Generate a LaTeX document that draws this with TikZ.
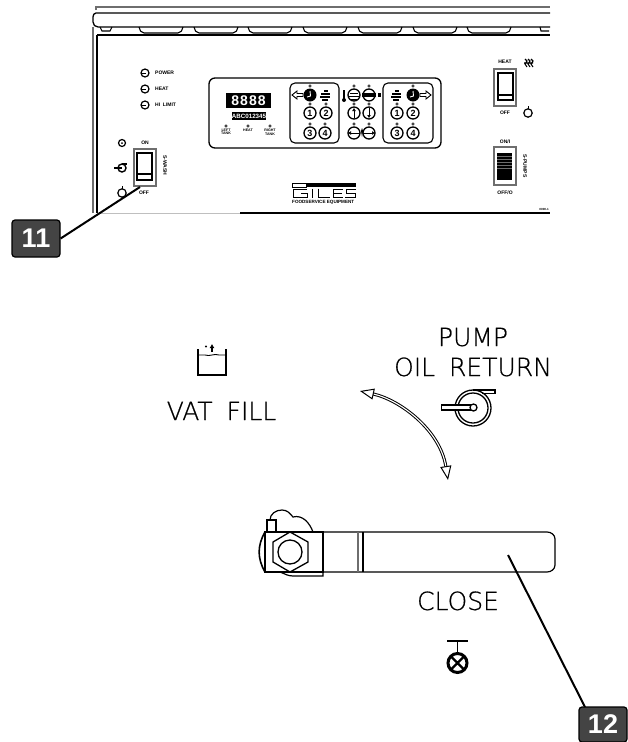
\documentclass[tikz,border=0pt]{standalone}
\usepackage{fontspec}
\setmainfont{Liberation Sans}
\newfontfamily\isofont[RawFeature={embolden=0.6}]{DejaVu Sans ExtraLight}
\usepackage{tikz}
\usetikzlibrary{arrows.meta,positioning,calc}
\definecolor{numbox}{RGB}{68,68,68}
\definecolor{rimgrey}{RGB}{110,110,110}
\tikzset{
  tinytxt/.style={font=\bfseries\fontsize{5}{5.2}\selectfont,inner sep=0pt,align=center},
  isotxt/.style={font=\isofont\fontsize{25}{25}\selectfont,inner sep=0pt,anchor=base},
  numbtn/.style={circle,draw,line width=1.3pt,minimum size=12pt,inner sep=0pt,font=\bfseries\fontsize{9}{9}\selectfont},
  numtag/.style={draw=black,fill=numbox,rounded corners=3pt,line width=1.2pt,text=white,inner sep=0pt,font=\bfseries\fontsize{27}{27}\selectfont},
  leader/.style={line width=2pt,color=black},
  clean/.style={line width=1.2pt}
}
\begin{document}
\begin{tikzpicture}[x=1pt,y=-1pt]
    \useasboundingbox (0,0) rectangle (628,742);
    % Cabinet outline
    \draw[line width=1.4pt,color=rimgrey] (96,10) -- (96,7) -- (550,7);
    \draw[line width=1.3pt] (550,13) -- (96,13) to[out=180,in=90] (93,17) -- (93,22) to[out=-90,in=180] (98,27) -- (550,27);
    \draw[line width=1.2pt,color=rimgrey] (93,27) -- (93,213);
    \draw[line width=1.2pt] (97,35) -- (97,213);
    \draw[line width=1.2pt] (97,35) -- (550,35);
    \draw[line width=0.6pt,color=lightgray] (97,213) -- (240,213);
    \draw[line width=1.2pt] (240,213) -- (550,213);
    \foreach \tabx in {139,194,248,303,358,413,467}
      \draw[line width=1.1pt] (\tabx,27) to[out=-80,in=180] (\tabx+5,33) -- (\tabx+39,33) to[out=0,in=-100] (\tabx+44,27);
    \draw[line width=1.1pt] (100,27) -- (102,31) -- (110,31) -- (112,27);
    \draw[line width=1.1pt] (540,27) -- (541,31) -- (549,31);

    % Indicator lights
    \foreach \ly/\ltxt in {73/POWER,89/HEAT,105/HI\ \ LIMIT}{
      \draw[line width=1.2pt] (145,\ly) circle (4);
      \draw[line width=1pt] (142,\ly) -- (146,\ly);
      \node[tinytxt,anchor=west] at (155,\ly) {\ltxt};
    }

    % Control panel
    \draw[line width=1.3pt,rounded corners=6pt] (209,78) rectangle (441,148);
    \node[fill=black,text=white,minimum width=45pt,minimum height=15pt,inner sep=0pt,font=\bfseries\fontsize{14}{14}\selectfont] (display) at (248.5,100.5) {\addfontfeature{LetterSpace=8}8888};
    \node[fill=black,text=white,minimum width=34pt,minimum height=8pt,inner sep=0pt,font=\bfseries\fontsize{6.2}{6.2}\selectfont] (readout) at (249,116) {ABC012345};
    \foreach \vx/\vtxt in {226/LEFT\\TANK,248/HEAT,270/RIGHT\\TANK}{
      \draw[line width=0.6pt] (\vx,126) circle (1.2);
      \node[tinytxt,anchor=north,font=\bfseries\fontsize{3.6}{3.8}\selectfont] at (\vx,128.5) {\vtxt};
    }
    \draw[line width=1.1pt,rounded corners=5pt] (290,83) rectangle (339,143);
    \draw[line width=1.1pt,rounded corners=5pt] (383,83) rectangle (433,143);

    % Buttons
    \foreach \bname/\bx/\by/\btxt in {la/310/113/1,lb/326/113/2,lc/310/133/3,ld/325/133/4,
                                      ra/397/113/1,rb/413/113/2,rc/397/133/3,rd/413/133/4}{
      \node[numbtn] (btn\bname) at (\bx,\by) {\btxt};
      \draw[line width=0.6pt] (\bx,\by-9) circle (1.2);
    }
    \foreach \bname/\bx/\by in {ma/354/95,mb/369/95,mc/354/113,md/369/113,me/354/133,mf/369/133}{
      \node[numbtn] (btn\bname) at (\bx,\by) {};
      \draw[line width=0.6pt] (\bx,\by-9) circle (1.2);
    }
    \foreach \clkx in {310,413}{
      \node[circle,fill=black,minimum size=13pt,inner sep=0pt] (clk\clkx) at (\clkx,95) {};
      \draw[white,line width=0.9pt] (\clkx,91) -- (\clkx+0.5,96) -- (\clkx-3,97);
      \draw[line width=0.6pt] (\clkx,86) circle (1.2);
    }
    % Small arrows
    \draw[line width=0.9pt] (292,95) -- (297,91) -- (297,93.5) -- (303,93.5) -- (303,96.5) -- (297,96.5) -- (297,99) -- cycle;
    \draw[line width=0.9pt] (431,95) -- (426,91) -- (426,93.5) -- (420,93.5) -- (420,96.5) -- (426,96.5) -- (426,99) -- cycle;
    % Vat marks
    \foreach \fx in {325,396}{
      \draw[line width=1.2pt] (\fx-1,91) -- (\fx+3,91);
      \draw[line width=1.4pt] (\fx-4,94) -- (\fx+5,94);
      \draw[line width=1.4pt] (\fx-5,97) -- (\fx+5,97);
      \draw[line width=1.2pt] (\fx-3,100) -- (\fx+3,100);
    }
    % Thermometer and inner marks
    \draw[line width=1.5pt] (344,90) -- (344,99);
    \fill (344,100) circle (2);
    \draw[line width=1pt] (350,93) -- (358,93) (349,96) -- (359,96) (351,99) -- (357,99);
    \fill (362,92.5) rectangle (376,97);
    \fill (378,93) rectangle (381,97);
    \draw[line width=0.9pt,-{Latex[length=3pt,width=4pt]}] (354,118) -- (354,108);
    \draw[line width=0.9pt,-{Latex[length=3pt,width=4pt]}] (369,108) -- (369,118);
    \draw[line width=0.9pt,-{Latex[length=3pt,width=4pt]}] (360,133) -- (348,133);
    \draw[line width=0.9pt,-{Latex[length=3pt,width=4pt]}] (363,133) -- (375,133);
    \fill (362,128) -- (363,131) -- (362,137) -- (361,131) -- cycle;

    % Left rocker switch
    \draw[line width=1.2pt,color=rimgrey] (134,149) rectangle (156,186);
    \draw[line width=1.2pt] (137,153) rectangle (152,180);
    \draw[line width=1.5pt] (137,174) -- (152,174);
    \node[tinytxt] (onleft) at (145,143) {ON};
    \node[tinytxt] (offleft) at (144,193) {OFF};
    \node[tinytxt,rotate=-90] (wash) at (165,165) {S-WASH};
    \draw[line width=1.2pt] (122,143) circle (3.5);
    \fill (122,143) circle (1);
    \draw[line width=1.4pt] (122,168) circle (4);
    \draw[line width=1.8pt] (114,168) -- (122,168);
    \draw[line width=1.2pt] (122,164) -- (127,164);
    \draw[line width=1.2pt] (122,193) circle (4.2);
    \draw[line width=0.9pt] (122,186) -- (122,189);

    % Right switches
    \node[tinytxt] (heatright) at (505,62) {HEAT};
    \draw[line width=1.2pt,color=rimgrey] (494,69) rectangle (516,106);
    \draw[line width=1.2pt] (498,73) rectangle (513,100);
    \draw[line width=1.5pt] (498,95) -- (513,95);
    \node[tinytxt] (offright) at (505,113) {OFF};
    \draw[line width=1.1pt] (525,59) -- (527,61) -- (525,64) -- (527,67) (528,59) -- (530,61) -- (528,64) -- (530,67) (531,59) -- (533,61) -- (531,64) -- (533,67) (524,63) -- (533,63);
    \draw[line width=1.2pt] (528,113) circle (4.2);
    \draw[line width=0.9pt] (528,106) -- (528,109);
    \node[tinytxt] (onpump) at (505,142) {ON/I};
    \draw[line width=1.2pt,color=rimgrey] (494,147) rectangle (516,185);
    \fill (497,153) rectangle (512,180);
    \foreach \hy in {156,159,...,168}
      \draw[line width=0.4pt,color=rimgrey] (497,\hy) -- (512,\hy);
    \node[tinytxt] (offpump) at (505,193) {OFF/O};
    \node[tinytxt,rotate=-90] (pumps) at (525,166) {S-PUMPS};
    \node[tinytxt,anchor=east,font=\bfseries\fontsize{3}{3}\selectfont] (partno) at (549,209) {0000-1};

    % Logo
    \draw[line width=0.6pt] (292,183) rectangle (306,187);
    \fill (306,183) rectangle (356,187);
    \begin{scope}[double,double distance=1.2pt,line width=0.6pt]
      \draw (307,189.5) -- (293,189.5) -- (293,197) -- (307,197) -- (307,193) -- (301,193);
      \draw (312,188.5) -- (312,197.5);
      \draw (318,188.5) -- (318,197) -- (330,197);
      \draw (343,189.5) -- (333,189.5) -- (333,197) -- (343,197) (333,193) -- (342,193);
      \draw (356,189.5) -- (346,189.5) -- (346,193) -- (355,193) -- (355,197) -- (345,197);
    \end{scope}
    \node[tinytxt,anchor=west,font=\bfseries\fontsize{4.6}{4.6}\selectfont] (foodsvc) at (292,202) {FOODSERVICE EQUIPMENT};

    % Callouts
    \node[numtag,minimum width=48pt,minimum height=37pt] (num11) at (36,238.5) {11};
    \coordinate (rocker) at (140,187);
    \draw[leader] (num11.east) -- (rocker);
    \node[numtag,minimum width=48pt,minimum height=35pt] (num12) at (603,724.5) {12};
    \coordinate (numtop) at (585,707);
    \coordinate (grip) at (508,555);
    \draw[leader] (numtop) -- (grip);

    % Valve labels
    \node[isotxt] (pumplbl) at (473,346) {PUMP};
    \node[isotxt] (returnlbl) at (473,376) {OIL\hspace{6pt} RETURN};
    \node[isotxt] (vatlbl) at (221.5,420) {VAT\hspace{6pt} FILL};
    \node[isotxt] (closelbl) at (458,610) {CLOSE};

    % Vat fill mark
    \draw[line width=2.8pt] (198,349) -- (198,375) -- (226,375) -- (226,349);
    \draw[line width=0.9pt] (199,355) to[bend left=15] (205,355) to[bend right=15] (212,355) to[bend left=15] (219,355) to[bend right=15] (225,355);
    \draw[line width=1.4pt,-{Latex[length=4pt,width=5pt]}] (212,352) -- (212,344);
    \fill (206,346.5) circle (1.2);

    % Pump mark
    \draw[line width=1.3pt] (473,408) circle (18);
    \draw[line width=1.3pt] (473,408) circle (15);
    \draw[line width=1.3pt] (473,390) -- (495,390) -- (495,393.5) -- (482,393.5);
    \draw[line width=1.3pt,fill=white] (441.5,405) rectangle (472,410);
    \draw[line width=1.3pt,fill=white] (473.5,407.5) circle (3.5);

    % Swing arrow
    \coordinate (tovat) at (360,391);
    \coordinate (toclose) at (448,480);
    \draw[double,double distance=1.1pt,line width=1pt,
          {Triangle[open,length=14pt,width=11pt]}-{Triangle[open,length=14pt,width=11pt]}]
      (tovat) .. controls (400,400) and (440,430) .. (toclose);

    % Valve handle
    \draw[clean] (270,520) to[out=90,in=180] (282,510) to[out=0,in=130] (293,517) to[out=15,in=110] (313,532);
    \draw[clean,fill=white] (267,520) rectangle (276,532);
    \draw[line width=1.6pt] (265,532) to[out=-120,in=120] (265,572);
    \draw[clean] (280,572) to[out=-20,in=180] (293,576) -- (323,576) -- (323,572);
    \draw[clean,fill=white] (265,532) rectangle (323,572);
    \draw[clean] (323,532) -- (547,532) to[out=0,in=90] (555,539) -- (555,565) to[out=-90,in=0] (547,572) -- (323,572);
    \draw[line width=1.8pt,color=rimgrey] (358,532) -- (358,572);
    \draw[clean] (363,532) -- (363,572);
    \draw[line width=1.3pt] (290,532) -- (308,542) -- (308,562) -- (290,572) -- (273,562) -- (273,542) -- cycle;
    \draw[line width=1.3pt] (290,552) circle (12);

    % Closed mark
    \draw[line width=2.4pt] (447,641) -- (468,641);
    \draw[line width=1.6pt] (457.5,641) -- (457.5,653);
    \draw[line width=3pt] (457.5,663) circle (9.5);
    \draw[line width=2.4pt] (451,656.5) -- (464,669.5) (451,669.5) -- (464,656.5);
\end{tikzpicture}
\end{document}
